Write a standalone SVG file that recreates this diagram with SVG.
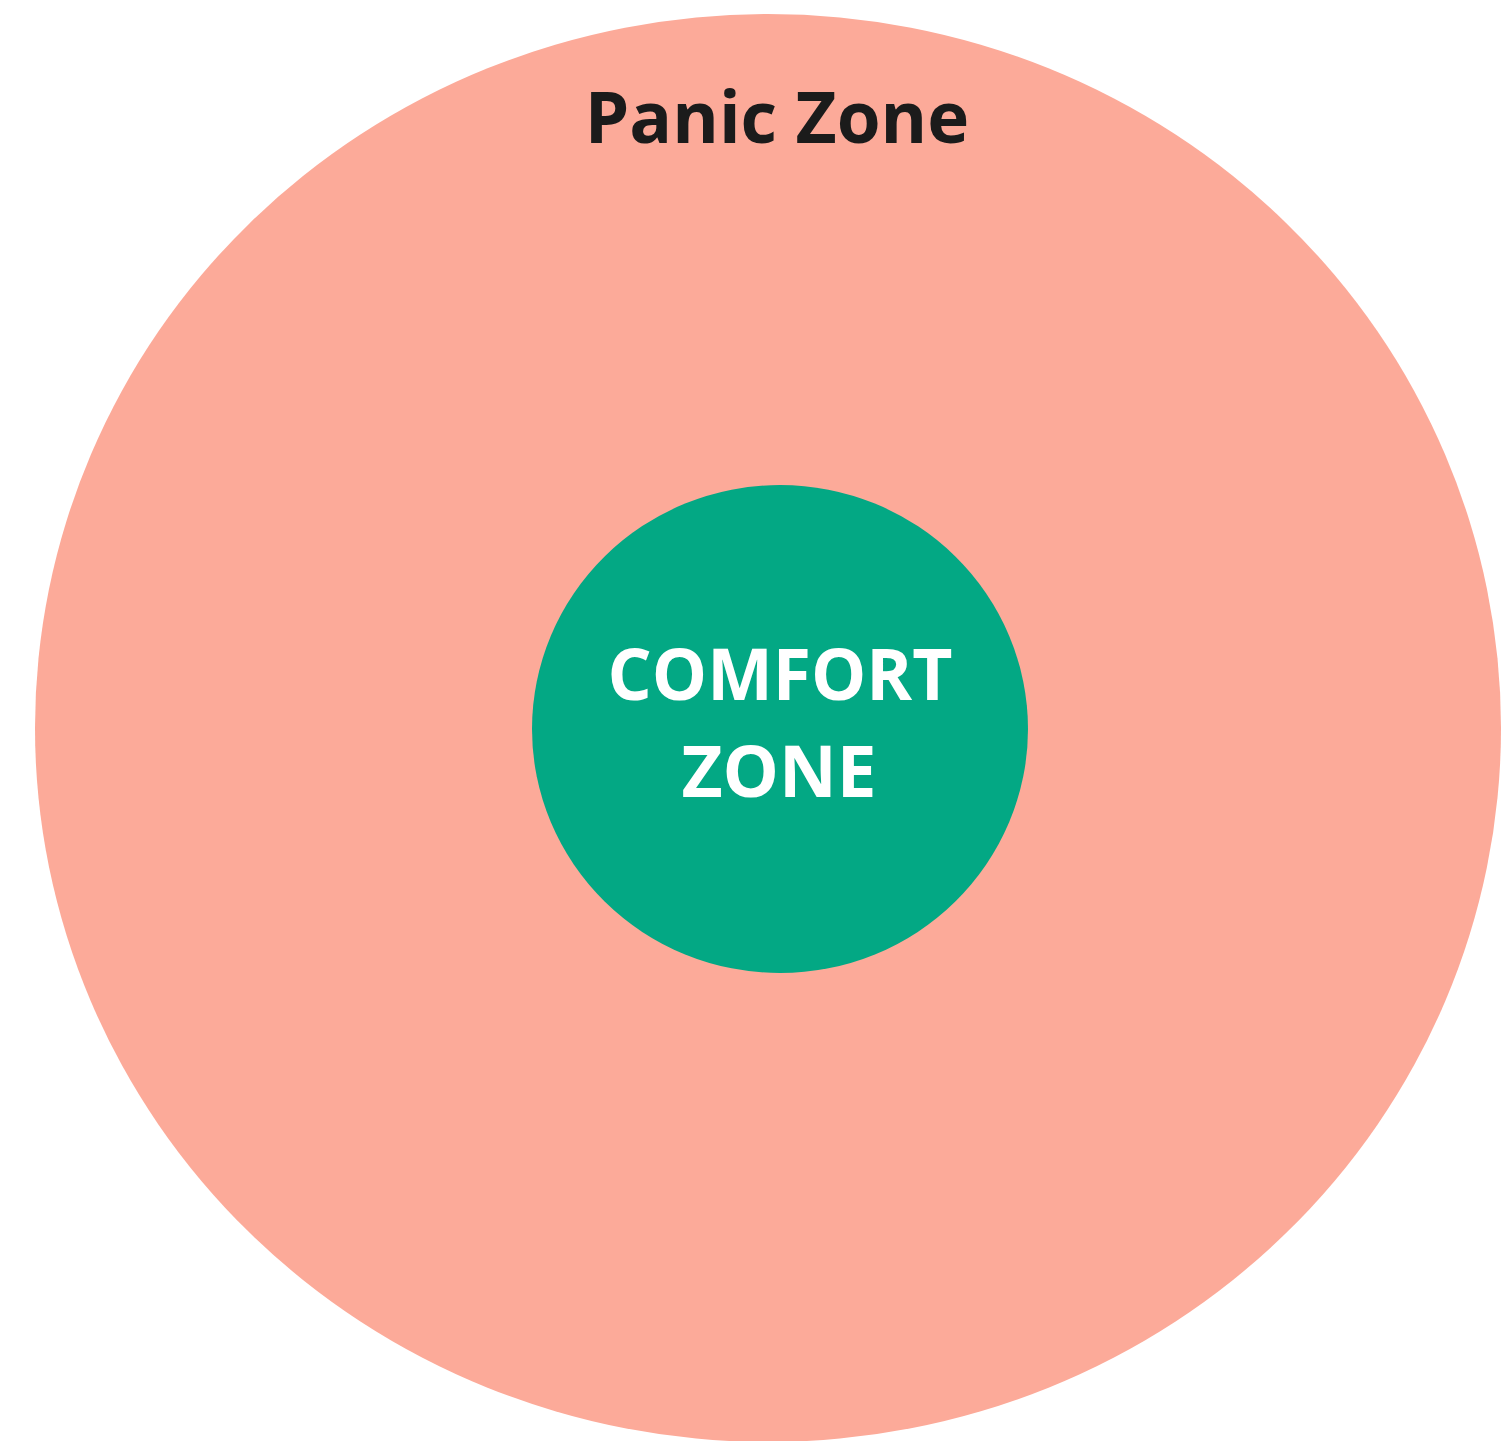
<svg xmlns="http://www.w3.org/2000/svg" width="1501" height="1441" viewBox="0 0 1501 1441">
<style>
.lbl{font-family:"Open Sans","Noto Sans","Liberation Sans",sans-serif;font-weight:700;text-anchor:middle}
</style>
<rect width="1501" height="1441" fill="#ffffff"/>
<g id="panic-zone">
<ellipse cx="768" cy="728" rx="733" ry="714" fill="#FCAA99"/>
<text class="lbl" x="777" y="143" font-size="71" fill="#1b1b1b">Panic Zone</text>
</g>
<g id="comfort-zone">
<ellipse cx="780" cy="729" rx="248" ry="244" fill="#03A884"/>
<text class="lbl" x="780" y="700" font-size="71" fill="#ffffff" textLength="345" lengthAdjust="spacingAndGlyphs">COMFORT</text>
<text class="lbl" x="779" y="797" font-size="71" fill="#ffffff">ZONE</text>
</g>
<g id="connectors"/>
</svg>
